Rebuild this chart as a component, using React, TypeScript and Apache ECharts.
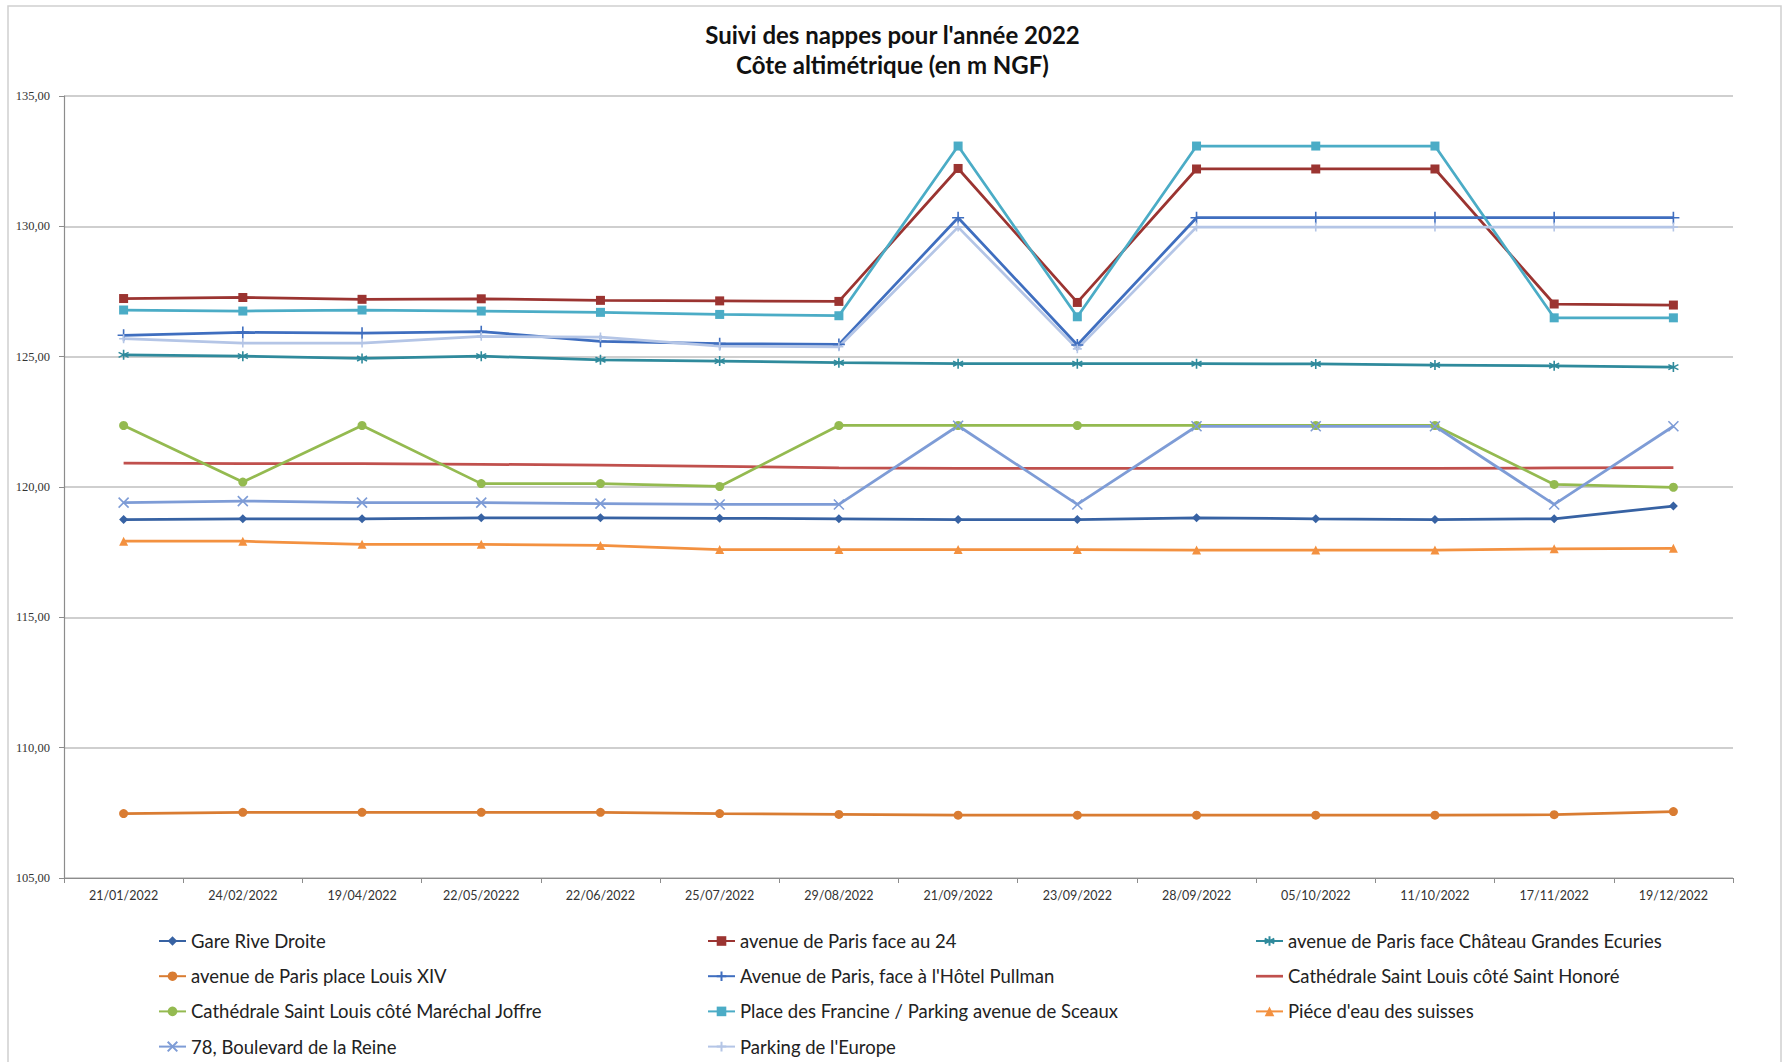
import React, { useEffect, useRef } from "react";
import * as echarts from "echarts";

const dates = [
  "21/01/2022", "24/02/2022", "19/04/2022", "22/05/20222", "22/06/2022", "25/07/2022", "29/08/2022",
  "21/09/2022", "23/09/2022", "28/09/2022", "05/10/2022", "11/10/2022", "17/11/2022", "19/12/2022",
];

const gareRiveDroite = [118.75, 118.78, 118.78, 118.82, 118.82, 118.8, 118.78, 118.75, 118.75, 118.82, 118.78, 118.75, 118.78, 119.27];
const avenueParis24 = [127.23, 127.27, 127.2, 127.22, 127.16, 127.14, 127.12, 132.22, 127.08, 132.2, 132.2, 132.2, 127.02, 126.98];
const avenueChateau = [125.07, 125.02, 124.93, 125.02, 124.88, 124.83, 124.77, 124.73, 124.73, 124.73, 124.72, 124.68, 124.65, 124.6];
const avenueLouisXIV = [107.47, 107.52, 107.52, 107.52, 107.52, 107.47, 107.44, 107.41, 107.41, 107.41, 107.41, 107.41, 107.43, 107.55];
const avenuePullman = [125.82, 125.93, 125.9, 125.96, 125.59, 125.5, 125.47, 130.33, 125.45, 130.33, 130.33, 130.33, 130.33, 130.33];
const stHonore = [120.92, 120.9, 120.9, 120.87, 120.84, 120.79, 120.73, 120.71, 120.71, 120.71, 120.71, 120.71, 120.73, 120.74];
const marechalJoffre = [122.36, 120.19, 122.36, 120.13, 120.13, 120.02, 122.36, 122.36, 122.36, 122.36, 122.36, 122.36, 120.1, 119.99];
const placeFrancine = [126.79, 126.75, 126.79, 126.75, 126.7, 126.62, 126.57, 133.08, 126.53, 133.08, 133.08, 133.08, 126.49, 126.49];
const pieceEau = [117.92, 117.92, 117.8, 117.8, 117.76, 117.6, 117.6, 117.6, 117.6, 117.58, 117.58, 117.58, 117.63, 117.65];
const boulevardReine = [119.4, 119.46, 119.4, 119.4, 119.36, 119.33, 119.33, 122.35, 119.33, 122.33, 122.33, 122.33, 119.33, 122.33];
const parkingEurope = [125.69, 125.52, 125.52, 125.78, 125.75, 125.4, 125.38, 129.97, 125.3, 129.97, 129.97, 129.97, 129.97, 129.97];

const yTicks = [105, 110, 115, 120, 125, 130, 135];

const names = [
  "Gare Rive Droite",
  "avenue de Paris face au 24",
  "avenue de Paris face Château Grandes Ecuries",
  "avenue de Paris place Louis XIV",
  "Avenue de Paris, face à l'Hôtel Pullman",
  "Cathédrale Saint Louis côté Saint Honoré",
  "Cathédrale Saint Louis côté Maréchal Joffre",
  "Place des Francine / Parking avenue de Sceaux",
  "Piéce d'eau des suisses",
  "78, Boulevard de la Reine",
  "Parking de l'Europe",
];

const seriesData = [
  gareRiveDroite, avenueParis24, avenueChateau, avenueLouisXIV, avenuePullman, stHonore,
  marechalJoffre, placeFrancine, pieceEau, boulevardReine, parkingEurope,
];

const colors = [
  "#3762A3", "#9B3431", "#2F8A9C", "#D97C32", "#3F6EBF", "#C0504D",
  "#94BA50", "#4BACC6", "#F39140", "#7E9CD6", "#B4C5E6",
];

const ASTER = "path://M5,0L5,10M0.7,2.5L9.3,7.5M0.7,7.5L9.3,2.5";
const PLUS = "path://M5,0L5,10M0,5L10,5";
const CROSS = "path://M0,0L10,10M0,10L10,0";
const LINE_ICON = "path://M0,0L30,0L30,3L0,3Z";

const symbols = ["diamond", "rect", ASTER, "circle", PLUS, "none", "circle", "rect", "triangle", CROSS, PLUS];
const symbolSizes = [9, 9, 10, 9, 12, 0, 9, 9, 9, 10, 9];
const strokeSymbols = [false, false, true, false, true, false, false, false, false, true, true];

export default function App() {
  const ref = useRef<HTMLDivElement>(null);

  useEffect(() => {
    document.body.style.margin = "0";
    if (!ref.current) return;
    const chart = echarts.init(ref.current, undefined, { renderer: "svg" });

    const series = names.map((name, i) => ({
      name,
      type: "line",
      data: seriesData[i],
      symbol: symbols[i],
      symbolSize: symbolSizes[i],
      showSymbol: symbols[i] !== "none",
      color: colors[i],
      lineStyle: { width: 2.75, color: colors[i] },
      itemStyle: strokeSymbols[i]
        ? { color: colors[i], borderColor: colors[i], borderWidth: 1.6 }
        : { color: colors[i] },
      emphasis: { disabled: true },
    }));

    const legendItem = (i: number) =>
      symbols[i] === "none" ? { name: names[i], icon: LINE_ICON } : { name: names[i] };

    const legendBase = {
      orient: "vertical",
      top: 931,
      height: 160,
      padding: 0,
      itemWidth: 27,
      itemHeight: 12,
      itemGap: 15.2,
      textStyle: { fontFamily: "Lato", fontSize: 18.5, color: "#222", lineHeight: 20 },
    };

    chart.setOption({
      animation: false,
      backgroundColor: "#ffffff",
      title: {
        text: "Suivi des nappes pour l'année 2022\nCôte altimétrique (en m NGF)",
        left: "center",
        top: 19,
        padding: 0,
        textStyle: {
          fontFamily: "Lato",
          fontSize: 24,
          fontWeight: "bold",
          color: "#111",
          lineHeight: 30.5,
        },
      },
      legend: [
        { ...legendBase, left: 158, data: [0, 3, 6, 9].map(legendItem) },
        { ...legendBase, left: 707, data: [1, 4, 7, 10].map(legendItem) },
        { ...legendBase, left: 1255, data: [2, 5, 8].map(legendItem) },
      ],
      grid: { left: 64, right: 52, top: 96, bottom: 184, containLabel: false },
      xAxis: {
        type: "category",
        data: dates,
        boundaryGap: true,
        axisLine: { show: true, lineStyle: { color: "#8C8C8C", width: 1.2 } },
        axisTick: { show: true, length: 5, lineStyle: { color: "#8C8C8C" } },
        axisLabel: { fontFamily: "Lato", fontSize: 12.5, color: "#333", margin: 11, interval: 0 },
        splitLine: { show: false },
      },
      yAxis: {
        type: "value",
        min: yTicks[0],
        max: yTicks[yTicks.length - 1],
        interval: 5,
        axisLine: { show: true, lineStyle: { color: "#8C8C8C", width: 1.2 } },
        axisTick: { show: true, length: 5, lineStyle: { color: "#8C8C8C" } },
        axisLabel: {
          fontFamily: "Liberation Serif",
          fontSize: 12.5,
          color: "#333",
          margin: 14,
          formatter: (v: number) => v.toFixed(2).replace(".", ","),
        },
        splitLine: { show: true, lineStyle: { color: "#BFBFBF", width: 1.5 } },
      },
      graphic: [
        {
          type: "rect",
          shape: { x: 8, y: 6, width: 1773, height: 1100 },
          style: { fill: "none", stroke: "#D0D0D0", lineWidth: 1.5 },
          silent: true,
          z: -1,
        },
      ],
      series,
    });

    return () => chart.dispose();
  }, []);

  return <div ref={ref} style={{ width: 1785, height: 1062 }} />;
}
